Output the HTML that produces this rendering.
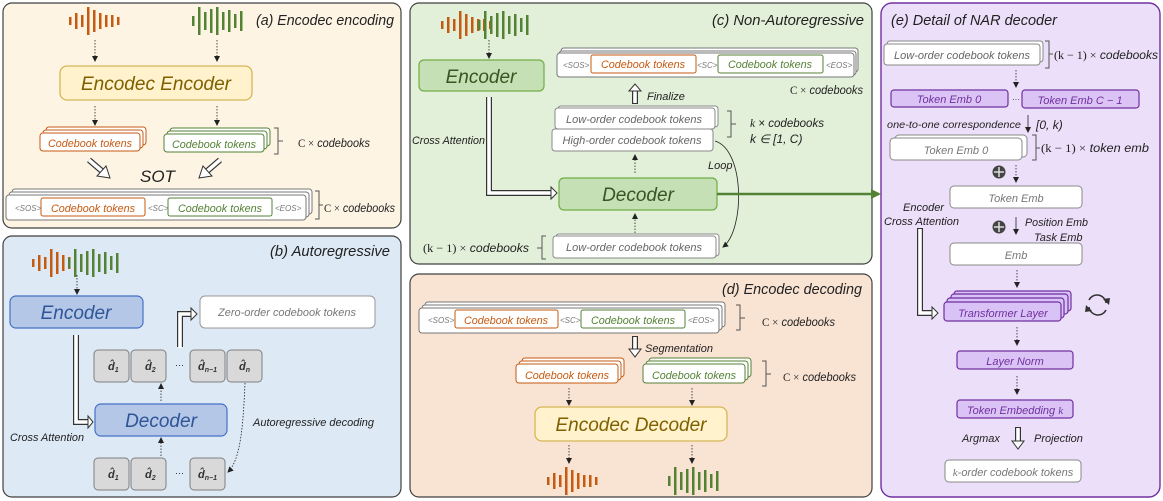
<!DOCTYPE html>
<html><head><meta charset="utf-8"><style>
html,body{margin:0;padding:0;background:#fff}
svg{display:block}
text{font-family:"Liberation Sans",sans-serif;font-style:italic}
</style></head><body>
<svg width="1163" height="501" viewBox="0 0 1163 501" xmlns="http://www.w3.org/2000/svg">
<defs>
<marker id="ah" markerWidth="6" markerHeight="6" refX="5" refY="3" orient="auto" markerUnits="userSpaceOnUse"><path d="M0,0 L6,3 L0,6z" fill="#222"/></marker>
<marker id="gh" markerWidth="10" markerHeight="10" refX="8" refY="5" orient="auto" markerUnits="userSpaceOnUse"><path d="M0,0 L10,5 L0,10z" fill="#548235"/></marker>
<g id="wo" fill="#c55a11">
<rect x="0" y="-4" width="2.5" height="8"/><rect x="6" y="-8" width="2.5" height="16"/><rect x="12" y="-6" width="2.5" height="12"/><rect x="18" y="-14" width="2.5" height="28"/><rect x="24" y="-11" width="2.5" height="22"/><rect x="30" y="-8" width="2.5" height="16"/><rect x="36" y="-6" width="2.5" height="12"/><rect x="42" y="-6" width="2.5" height="12"/><rect x="48" y="-4" width="2.5" height="8"/>
</g>
<g id="wg" fill="#548235">
<rect x="0" y="-5" width="2.5" height="10"/><rect x="6" y="-14" width="2.5" height="28"/><rect x="12" y="-9" width="2.5" height="18"/><rect x="18" y="-12" width="2.5" height="24"/><rect x="24" y="-14" width="2.5" height="28"/><rect x="30" y="-9" width="2.5" height="18"/><rect x="36" y="-11" width="2.5" height="22"/><rect x="42" y="-7" width="2.5" height="14"/><rect x="48" y="-10" width="2.5" height="20"/>
</g>
</defs>

<rect x="3" y="3" width="398" height="225" rx="9" fill="#fdf4e4" stroke="#404040" stroke-width="1.2"/>
<rect x="3" y="236" width="398" height="261" rx="9" fill="#dde9f5" stroke="#404040" stroke-width="1.2"/>
<rect x="410" y="3" width="462" height="261" rx="9" fill="#e2efd9" stroke="#404040" stroke-width="1.2"/>
<rect x="410" y="274" width="462" height="223" rx="9" fill="#f9e3d3" stroke="#404040" stroke-width="1.2"/>
<rect x="881" y="3" width="279" height="494" rx="11" fill="#ecdff9" stroke="#7030a0" stroke-width="1.4"/>

<g font-size="11" fill="#222">
<!-- (a) -->
<text x="256" y="25" font-size="15" textLength="138" lengthAdjust="spacingAndGlyphs">(a) Encodec encoding</text>
<use href="#wo" x="69" y="21"/>
<use href="#wg" x="192" y="21"/>
<g stroke="#222" stroke-width="0.8" stroke-dasharray="1.5,1.5" marker-end="url(#ah)">
<line x1="95" y1="40" x2="95" y2="61"/><line x1="217" y1="40" x2="217" y2="61"/>
<line x1="95" y1="106" x2="95" y2="125"/><line x1="217" y1="106" x2="217" y2="125"/>
</g>
<rect x="60" y="66" width="192" height="34" rx="7" fill="#fff2cc" stroke="#d6b656" stroke-width="1.3"/>
<text x="156" y="90" font-size="19" fill="#7f6000" text-anchor="middle">Encodec Encoder</text>
<g fill="#fff" stroke="#c55a11" stroke-width="1"><rect x="46" y="127" width="100" height="18" rx="3"/><rect x="43" y="130" width="100" height="18" rx="3"/><rect x="40" y="133" width="100" height="18" rx="3"/></g>
<text x="90" y="147" fill="#c55a11" text-anchor="middle" textLength="84" lengthAdjust="spacingAndGlyphs">Codebook tokens</text>
<g fill="#fff" stroke="#548235" stroke-width="1"><rect x="170" y="128" width="100" height="18" rx="3"/><rect x="167" y="131" width="100" height="18" rx="3"/><rect x="164" y="134" width="100" height="18" rx="3"/></g>
<text x="214" y="148" fill="#548235" text-anchor="middle" textLength="84" lengthAdjust="spacingAndGlyphs">Codebook tokens</text>
<path d="M274,128 h4 v26 h-4 M278,141 h5" stroke="#555" fill="none"/>
<text x="298" y="147" font-size="12" textLength="72" lengthAdjust="spacingAndGlyphs"><tspan font-style="normal" font-family="Liberation Serif">C ×</tspan> codebooks</text>
<g stroke="#333" stroke-width="6" fill="none"><line x1="89" y1="160" x2="103" y2="172"/><line x1="220" y1="160" x2="206" y2="172"/></g>
<g stroke="#fff" stroke-width="3.6" fill="none"><line x1="89" y1="160" x2="103" y2="172"/><line x1="220" y1="160" x2="206" y2="172"/></g>
<polygon points="110,178 97,176 106,166" fill="#fff" stroke="#333"/>
<polygon points="199,178 212,176 203,166" fill="#fff" stroke="#333"/>
<text x="140" y="182" font-size="17">SOT</text>
<g fill="#fff" stroke="#777" stroke-width="1"><rect x="12" y="189" width="300" height="25" rx="3"/><rect x="9" y="192" width="300" height="25" rx="3"/><rect x="6" y="195" width="300" height="25" rx="3"/></g>
<rect x="41" y="198" width="104" height="18" rx="2" fill="#fff" stroke="#c55a11"/>
<rect x="168" y="198" width="104" height="18" rx="2" fill="#fff" stroke="#548235"/>
<text x="15" y="211" font-size="8" fill="#777">&lt;SOS&gt;</text>
<text x="93" y="212" fill="#c55a11" text-anchor="middle" textLength="84" lengthAdjust="spacingAndGlyphs">Codebook tokens</text>
<text x="148" y="211" font-size="8" fill="#777">&lt;SC&gt;</text>
<text x="220" y="212" fill="#548235" text-anchor="middle" textLength="84" lengthAdjust="spacingAndGlyphs">Codebook tokens</text>
<text x="275" y="211" font-size="8" fill="#777">&lt;EOS&gt;</text>
<path d="M315,191 h4 v28 h-4 M319,205 h4" stroke="#555" fill="none"/>
<text x="324" y="212" font-size="12" textLength="71" lengthAdjust="spacingAndGlyphs"><tspan font-style="normal" font-family="Liberation Serif">C ×</tspan> codebooks</text>

<!-- (b) -->
<text x="270" y="256" font-size="15" textLength="120" lengthAdjust="spacingAndGlyphs">(b) Autoregressive</text>
<use href="#wo" x="32" y="263"/>
<use href="#wg" x="68" y="263"/>
<line x1="77" y1="275" x2="77" y2="294" stroke="#222" stroke-width="0.8" stroke-dasharray="1.5,1.5" marker-end="url(#ah)"/>
<rect x="10" y="296" width="133" height="32" rx="6" fill="#b4c7e7" stroke="#4472c4" stroke-width="1.2"/>
<text x="76" y="319" font-size="19" fill="#2f5597" text-anchor="middle">Encoder</text>
<rect x="95" y="404" width="132" height="32" rx="6" fill="#b4c7e7" stroke="#4472c4" stroke-width="1.2"/>
<text x="161" y="427" font-size="19" fill="#2f5597" text-anchor="middle">Decoder</text>
<polyline points="76,335 76,422 88,422" stroke="#333" stroke-width="6" fill="none"/>
<polyline points="76,335 76,422 89,422" stroke="#fff" stroke-width="3.6" fill="none"/>
<polygon points="88,416 93,422 88,428" fill="#fff" stroke="#333"/>
<text x="10" y="441" textLength="74" lengthAdjust="spacingAndGlyphs">Cross Attention</text>
<polyline points="180,347 180,314 191,314" stroke="#333" stroke-width="6" fill="none"/>
<polyline points="180,348 180,314 192,314" stroke="#fff" stroke-width="3.6" fill="none"/>
<polygon points="191,308 197,314 191,320" fill="#fff" stroke="#333"/>
<rect x="200" y="296" width="175" height="32" rx="5" fill="#fff" stroke="#999"/>
<text x="287" y="316" fill="#777" text-anchor="middle" textLength="138" lengthAdjust="spacingAndGlyphs">Zero-order codebook tokens</text>
<g fill="#d9d9d9" stroke="#808080" stroke-width="1">
<rect x="94" y="350" width="35" height="32" rx="4"/><rect x="131" y="350" width="35" height="32" rx="4"/><rect x="190" y="350" width="35" height="32" rx="4"/><rect x="227" y="350" width="35" height="32" rx="4"/>
<rect x="94" y="458" width="35" height="32" rx="4"/><rect x="131" y="458" width="35" height="32" rx="4"/><rect x="190" y="458" width="35" height="32" rx="4"/>
</g>
<g font-family="Liberation Serif" font-weight="bold" font-size="11" fill="#333">
<text x="108" y="370">d̂<tspan font-size="7" dy="2">1</tspan></text>
<text x="145" y="370">d̂<tspan font-size="7" dy="2">2</tspan></text>
<text x="198" y="370">d̂<tspan font-size="7" dy="2">n−1</tspan></text>
<text x="239" y="370">d̂<tspan font-size="7" dy="2">n</tspan></text>
<text x="108" y="478">d̂<tspan font-size="7" dy="2">1</tspan></text>
<text x="145" y="478">d̂<tspan font-size="7" dy="2">2</tspan></text>
<text x="198" y="478">d̂<tspan font-size="7" dy="2">n−1</tspan></text>
</g>
<text x="175" y="368" font-size="9">···</text>
<text x="175" y="476" font-size="9">···</text>
<g stroke="#222" stroke-width="0.8" stroke-dasharray="1.5,1.5" marker-end="url(#ah)" fill="none">
<line x1="161" y1="401" x2="161" y2="384"/><line x1="161" y1="456" x2="161" y2="438"/>
<path d="M245,383 C243,430 240,460 228,472"/>
</g>
<text x="253" y="426" textLength="121" lengthAdjust="spacingAndGlyphs">Autoregressive decoding</text>

<!-- (c) -->
<text x="712" y="25" font-size="15" textLength="152" lengthAdjust="spacingAndGlyphs">(c) Non-Autoregressive</text>
<use href="#wo" x="441" y="25"/>
<use href="#wg" x="478" y="25"/>
<line x1="489" y1="40" x2="489" y2="58" stroke="#222" stroke-width="0.8" stroke-dasharray="1.5,1.5" marker-end="url(#ah)"/>
<rect x="419" y="60" width="125" height="31" rx="5" fill="#c5e0b4" stroke="#70ad47" stroke-width="1.2"/>
<text x="481" y="83" font-size="19" fill="#375623" text-anchor="middle">Encoder</text>
<rect x="559" y="178" width="158" height="32" rx="5" fill="#c5e0b4" stroke="#70ad47" stroke-width="1.2"/>
<text x="638" y="201" font-size="19" fill="#375623" text-anchor="middle">Decoder</text>
<polyline points="489,97 489,193 552,193" stroke="#333" stroke-width="6" fill="none"/>
<polyline points="489,97 489,193 553,193" stroke="#fff" stroke-width="3.6" fill="none"/>
<polygon points="551,187 557,193 551,199" fill="#fff" stroke="#333"/>
<text x="412" y="144" textLength="73" lengthAdjust="spacingAndGlyphs">Cross Attention</text>
<g fill="#fff" stroke="#777" stroke-width="1"><rect x="561" y="48" width="297" height="24" rx="3"/><rect x="559" y="51" width="297" height="24" rx="3"/><rect x="557" y="53" width="297" height="24" rx="3"/></g>
<rect x="591" y="55" width="105" height="18" rx="2" fill="#fff" stroke="#c55a11"/>
<rect x="718" y="55" width="105" height="18" rx="2" fill="#fff" stroke="#548235"/>
<text x="563" y="68" font-size="8" fill="#777">&lt;SOS&gt;</text>
<text x="643" y="68" fill="#c55a11" text-anchor="middle" textLength="84" lengthAdjust="spacingAndGlyphs">Codebook tokens</text>
<text x="697" y="68" font-size="8" fill="#777">&lt;SC&gt;</text>
<text x="770" y="68" fill="#548235" text-anchor="middle" textLength="84" lengthAdjust="spacingAndGlyphs">Codebook tokens</text>
<text x="826" y="68" font-size="8" fill="#777">&lt;EOS&gt;</text>
<text x="790" y="94" font-size="12" textLength="73" lengthAdjust="spacingAndGlyphs"><tspan font-style="normal" font-family="Liberation Serif">C ×</tspan> codebooks</text>
<line x1="635" y1="104" x2="635" y2="90" stroke="#333" stroke-width="6"/>
<line x1="635" y1="103" x2="635" y2="90" stroke="#fff" stroke-width="3.6"/>
<polygon points="629,91 635,84 641,91" fill="#fff" stroke="#333"/>
<text x="647" y="100">Finalize</text>
<rect x="558" y="106" width="160" height="21" rx="3" fill="#fff" stroke="#888"/>
<rect x="555" y="108" width="160" height="21" rx="3" fill="#fff" stroke="#888"/>
<rect x="552" y="129" width="161" height="22" rx="3" fill="#fff" stroke="#888"/>
<text x="634" y="123" fill="#666" text-anchor="middle" textLength="136" lengthAdjust="spacingAndGlyphs">Low-order codebook tokens</text>
<text x="632" y="144" fill="#666" text-anchor="middle" textLength="139" lengthAdjust="spacingAndGlyphs">High-order codebook tokens</text>
<path d="M727,111 h4 v26 h-4 M731,124 h5" stroke="#555" fill="none"/>
<text x="750" y="127" font-size="12" textLength="74" lengthAdjust="spacingAndGlyphs"><tspan font-family="Liberation Serif">k</tspan> × codebooks</text>
<text x="750" y="143" font-size="12" font-family="Liberation Serif">k ∈ [1, C)</text>
<g stroke="#222" stroke-width="0.8" stroke-dasharray="1.5,1.5" marker-end="url(#ah)" fill="none">
<line x1="635" y1="173" x2="635" y2="155"/><line x1="635" y1="236" x2="635" y2="214"/>
</g>
<path d="M715,141 C745,150 745,230 723,247" stroke="#222" stroke-width="0.8" fill="none" marker-end="url(#ah)"/>
<text x="708" y="169">Loop</text>
<rect x="556" y="234" width="163" height="22" rx="3" fill="#fff" stroke="#888"/>
<rect x="553" y="236" width="163" height="22" rx="3" fill="#fff" stroke="#888"/>
<text x="634" y="251" fill="#666" text-anchor="middle" textLength="136" lengthAdjust="spacingAndGlyphs">Low-order codebook tokens</text>
<path d="M546,236 h-4 v23 h4 M542,248 h-5" stroke="#555" fill="none"/>
<text x="423" y="252" font-size="12" textLength="106" lengthAdjust="spacingAndGlyphs"><tspan font-style="normal" font-family="Liberation Serif">(k − 1) ×</tspan> codebooks</text>
<line x1="717" y1="194" x2="879" y2="194" stroke="#548235" stroke-width="2.5" marker-end="url(#gh)"/>

<!-- (d) -->
<text x="722" y="294" font-size="15" textLength="140" lengthAdjust="spacingAndGlyphs">(d) Encodec decoding</text>
<g fill="#fff" stroke="#777" stroke-width="1"><rect x="425" y="302" width="300" height="25" rx="3"/><rect x="422" y="305" width="300" height="25" rx="3"/><rect x="419" y="308" width="300" height="25" rx="3"/></g>
<rect x="455" y="310" width="103" height="18" rx="2" fill="#fff" stroke="#c55a11"/>
<rect x="581" y="310" width="104" height="18" rx="2" fill="#fff" stroke="#548235"/>
<text x="428" y="323" font-size="8" fill="#777">&lt;SOS&gt;</text>
<text x="506" y="324" fill="#c55a11" text-anchor="middle" textLength="84" lengthAdjust="spacingAndGlyphs">Codebook tokens</text>
<text x="560" y="323" font-size="8" fill="#777">&lt;SC&gt;</text>
<text x="633" y="324" fill="#548235" text-anchor="middle" textLength="84" lengthAdjust="spacingAndGlyphs">Codebook tokens</text>
<text x="688" y="323" font-size="8" fill="#777">&lt;EOS&gt;</text>
<path d="M736,305 h4 v25 h-4 M740,318 h5" stroke="#555" fill="none"/>
<text x="762" y="326" font-size="12" textLength="73" lengthAdjust="spacingAndGlyphs"><tspan font-style="normal" font-family="Liberation Serif">C ×</tspan> codebooks</text>
<line x1="635" y1="336" x2="635" y2="350" stroke="#333" stroke-width="6"/>
<line x1="635" y1="337" x2="635" y2="350" stroke="#fff" stroke-width="3.6"/>
<polygon points="629,349 641,349 635,357" fill="#fff" stroke="#333"/>
<text x="645" y="352" textLength="68" lengthAdjust="spacingAndGlyphs">Segmentation</text>
<g fill="#fff" stroke="#c55a11" stroke-width="1"><rect x="522" y="358" width="102" height="19" rx="3"/><rect x="519" y="361" width="102" height="19" rx="3"/><rect x="516" y="364" width="102" height="19" rx="3"/></g>
<text x="567" y="379" fill="#c55a11" text-anchor="middle" textLength="84" lengthAdjust="spacingAndGlyphs">Codebook tokens</text>
<g fill="#fff" stroke="#548235" stroke-width="1"><rect x="649" y="358" width="102" height="19" rx="3"/><rect x="646" y="361" width="102" height="19" rx="3"/><rect x="643" y="364" width="102" height="19" rx="3"/></g>
<text x="694" y="379" fill="#548235" text-anchor="middle" textLength="84" lengthAdjust="spacingAndGlyphs">Codebook tokens</text>
<path d="M762,361 h4 v25 h-4 M766,374 h5" stroke="#555" fill="none"/>
<text x="783" y="381" font-size="12" textLength="73" lengthAdjust="spacingAndGlyphs"><tspan font-style="normal" font-family="Liberation Serif">C ×</tspan> codebooks</text>
<g stroke="#222" stroke-width="0.8" stroke-dasharray="1.5,1.5" marker-end="url(#ah)">
<line x1="569" y1="388" x2="569" y2="405"/><line x1="692" y1="388" x2="692" y2="405"/>
<line x1="569" y1="445" x2="569" y2="463"/><line x1="692" y1="445" x2="692" y2="463"/>
</g>
<rect x="535" y="407" width="192" height="34" rx="7" fill="#fff2cc" stroke="#d6b656" stroke-width="1.3"/>
<text x="631" y="431" font-size="19" fill="#7f6000" text-anchor="middle">Encodec Decoder</text>
<use href="#wo" x="547" y="481"/>
<use href="#wg" x="668" y="481"/>

<!-- (e) -->
<text x="891" y="25" font-size="15" textLength="166" lengthAdjust="spacingAndGlyphs">(e) Detail of NAR decoder</text>
<rect x="887" y="41" width="156" height="21" rx="3" fill="#fff" stroke="#888"/>
<rect x="884" y="44" width="156" height="21" rx="3" fill="#fff" stroke="#888"/>
<text x="962" y="59" fill="#666" text-anchor="middle" textLength="136" lengthAdjust="spacingAndGlyphs">Low-order codebook tokens</text>
<path d="M1045,41 h4 v27 h-4 M1049,54 h4" stroke="#555" fill="none"/>
<text x="1054" y="59" font-size="12" textLength="104" lengthAdjust="spacingAndGlyphs"><tspan font-style="normal" font-family="Liberation Serif">(k − 1) ×</tspan> codebooks</text>
<g stroke="#222" stroke-width="0.8" stroke-dasharray="1.5,1.5" marker-end="url(#ah)">
<line x1="1016" y1="70" x2="1016" y2="87"/><line x1="1016" y1="165" x2="1016" y2="182"/>
<line x1="1017" y1="270" x2="1017" y2="287"/><line x1="1017" y1="327" x2="1017" y2="345"/><line x1="1017" y1="376" x2="1017" y2="394"/>
</g>
<rect x="891" y="90" width="117" height="17" rx="3" fill="#dbc4f5" stroke="#7030a0" stroke-width="1.2"/>
<text x="949" y="103" fill="#7030a0" text-anchor="middle">Token Emb 0</text>
<text x="1012" y="102" font-size="8">···</text>
<rect x="1022" y="90" width="117" height="18" rx="3" fill="#dbc4f5" stroke="#7030a0" stroke-width="1.2"/>
<text x="1080" y="104" fill="#7030a0" text-anchor="middle">Token Emb C − 1</text>
<text x="887" y="128" font-size="10" textLength="134" lengthAdjust="spacingAndGlyphs">one-to-one correspondence</text>
<line x1="1028" y1="115" x2="1028" y2="132" stroke="#222" stroke-width="0.8" marker-end="url(#ah)"/>
<text x="1036" y="129" font-size="12" font-style="normal" font-family="Liberation Serif">[0, <tspan font-style="italic">k</tspan>)</text>
<rect x="895" y="135" width="132" height="22" rx="4" fill="#fff" stroke="#888"/>
<rect x="890" y="138" width="132" height="22" rx="4" fill="#fff" stroke="#888"/>
<text x="956" y="154" fill="#777" text-anchor="middle">Token Emb 0</text>
<path d="M1032,135 h4 v25 h-4 M1036,148 h4" stroke="#555" fill="none"/>
<text x="1041" y="152" font-size="12" textLength="108" lengthAdjust="spacingAndGlyphs"><tspan font-style="normal" font-family="Liberation Serif">(k − 1) ×</tspan> token emb</text>
<g>
<circle cx="999" cy="172" r="6.5" fill="#444"/><path d="M999,167 v10 M994,172 h10" stroke="#ddd" stroke-width="1.5"/>
<circle cx="999" cy="227" r="6.5" fill="#444"/><path d="M999,222 v10 M994,227 h10" stroke="#ddd" stroke-width="1.5"/>
</g>
<rect x="950" y="186" width="132" height="22" rx="4" fill="#fff" stroke="#888"/>
<text x="1016" y="202" fill="#777" text-anchor="middle">Token Emb</text>
<text x="903" y="211">Encoder</text>
<text x="884" y="225" textLength="75" lengthAdjust="spacingAndGlyphs">Cross Attention</text>
<line x1="1016" y1="217" x2="1016" y2="234" stroke="#222" stroke-width="0.8" marker-end="url(#ah)"/>
<text x="1025" y="226" textLength="63" lengthAdjust="spacingAndGlyphs">Position Emb</text>
<text x="1034" y="241">Task Emb</text>
<rect x="950" y="243" width="132" height="22" rx="4" fill="#fff" stroke="#888"/>
<text x="1016" y="259" fill="#777" text-anchor="middle">Emb</text>
<polyline points="920,228 920,313 932,313" stroke="#333" stroke-width="6" fill="none"/>
<polyline points="920,229 920,313 933,313" stroke="#fff" stroke-width="3.6" fill="none"/>
<polygon points="932,307 938,313 932,319" fill="#fff" stroke="#333"/>
<g fill="#d9c2f5" stroke="#7030a0" stroke-width="1.2">
<rect x="954" y="291" width="117" height="20" rx="3"/><rect x="951" y="294" width="117" height="20" rx="3"/><rect x="947" y="298" width="117" height="20" rx="3"/><rect x="944" y="302" width="117" height="19" rx="3"/>
</g>
<text x="1003" y="317" fill="#7030a0" text-anchor="middle">Transformer Layer</text>
<g fill="none" stroke="#333" stroke-width="1.5">
<path d="M1089,300 A9,9 0 0 1 1106,303"/><path d="M1106,310 A9,9 0 0 1 1089,307"/>
</g>
<polygon points="1103,299 1109,305 1110,298" fill="#333"/><polygon points="1092,311 1086,305 1085,312" fill="#333"/>
<rect x="957" y="351" width="116" height="18" rx="3" fill="#dbc4f5" stroke="#7030a0" stroke-width="1.2"/>
<text x="1015" y="365" fill="#7030a0" text-anchor="middle">Layer Norm</text>
<rect x="957" y="400" width="116" height="18" rx="3" fill="#dbc4f5" stroke="#7030a0" stroke-width="1.2"/>
<text x="1015" y="414" fill="#7030a0" text-anchor="middle">Token Embedding <tspan font-family="Liberation Serif">k</tspan></text>
<line x1="1018" y1="427" x2="1018" y2="442" stroke="#333" stroke-width="6"/>
<line x1="1018" y1="428" x2="1018" y2="442" stroke="#fff" stroke-width="3.6"/>
<polygon points="1012,441 1024,441 1018,449" fill="#fff" stroke="#333"/>
<text x="962" y="442">Argmax</text>
<text x="1034" y="442">Projection</text>
<rect x="945" y="460" width="136" height="22" rx="4" fill="#fff" stroke="#888"/>
<text x="1013" y="476" fill="#777" text-anchor="middle"><tspan font-family="Liberation Serif">k</tspan>-order codebook tokens</text>
</g>
</svg>
</body></html>
